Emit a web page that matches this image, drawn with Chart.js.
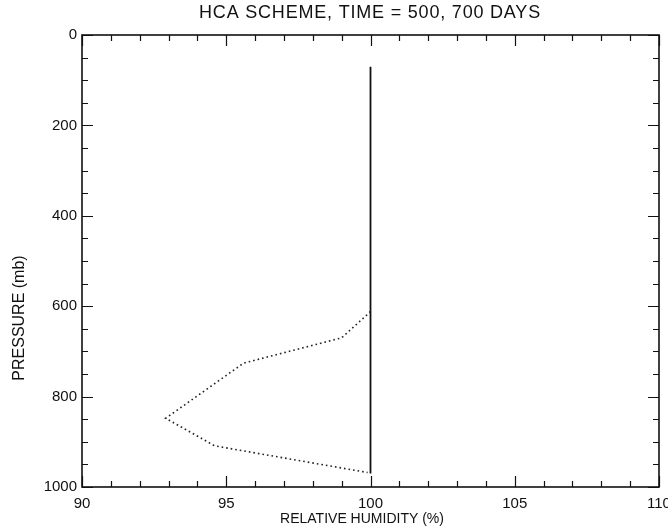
<!DOCTYPE html>
<html>
<head>
<meta charset="utf-8">
<script src="https://cdn.jsdelivr.net/npm/chart.js@4"></script>
<style>
  html, body { margin: 0; padding: 0; background: #fff; }
  #wrap { width: 668px; height: 528px; }
</style>
</head>
<body>
<div id="wrap"><canvas id="c" width="668" height="528"></canvas></div>
<script>
// ---- data ----
const titleText = "HCA SCHEME, TIME = 500, 700 DAYS";
const xTitle = "RELATIVE HUMIDITY (%)";
const yTitle = "PRESSURE (mb)";
const xTickLabels = [90, 95, 100, 105, 110];
const yTickLabels = [0, 200, 400, 600, 800, 1000];
const solidRH = [100, 100];
const solidP = [70, 970];
const dottedRH = [100, 99.0, 95.6, 92.9, 94.6, 99.9];
const dottedP = [612, 670, 726, 848, 909, 968];

const FONT = "'Liberation Sans', Arial, sans-serif";

function toPts(xs, ys) { return xs.map((x, i) => ({ x: x, y: ys[i] })); }

const frameTicks = {
  id: 'frameTicks',
  afterDatasetsDraw(chart) {
    const { ctx, chartArea: a, scales: { x, y } } = chart;
    ctx.save();
    ctx.strokeStyle = '#111';
    ctx.lineWidth = 1.6;
    ctx.strokeRect(a.left, a.top, a.right - a.left, a.bottom - a.top);
    ctx.lineWidth = 1.2;
    ctx.beginPath();
    for (let v = x.min; v <= x.max + 1e-9; v += 1) {
      const px = Math.round(x.getPixelForValue(v)) + 0.5;
      const major = xTickLabels.includes(v);
      const len = major ? 11 : 6;
      ctx.moveTo(px, a.bottom); ctx.lineTo(px, a.bottom - len);
      ctx.moveTo(px, a.top); ctx.lineTo(px, a.top + len);
    }
    for (let v = y.min; v <= y.max + 1e-9; v += 50) {
      const py = Math.round(y.getPixelForValue(v)) + 0.5;
      const major = yTickLabels.includes(v);
      const len = major ? 11 : 6;
      ctx.moveTo(a.left, py); ctx.lineTo(a.left + len, py);
      ctx.moveTo(a.right, py); ctx.lineTo(a.right - len, py);
    }
    ctx.stroke();
    ctx.restore();
  },
  afterDraw(chart) {
    const { ctx } = chart;
    ctx.save();
    ctx.fillStyle = '#111';
    ctx.textAlign = 'center';
    ctx.textBaseline = 'middle';
    ctx.font = "18px " + FONT;
    if ('letterSpacing' in ctx) ctx.letterSpacing = '0.8px';
    ctx.fillText(titleText, 370, 13);
    if ('letterSpacing' in ctx) ctx.letterSpacing = '0px';
    ctx.font = "14px " + FONT;
    ctx.fillText(xTitle, 362, 519);
    ctx.translate(20, 318);
    ctx.rotate(-Math.PI / 2);
    ctx.font = "16px " + FONT;
    ctx.fillText(yTitle, 0, 0);
    ctx.restore();
  }
};

new Chart(document.getElementById('c'), {
  type: 'scatter',
  data: {
    datasets: [
      {
        label: 'Solid',
        data: toPts(solidRH, solidP),
        showLine: true,
        borderColor: '#111',
        borderWidth: 1.8,
        pointRadius: 0,
        tension: 0
      },
      {
        label: 'Dotted',
        data: toPts(dottedRH, dottedP),
        showLine: true,
        borderColor: '#222',
        borderWidth: 1.6,
        borderDash: [1.6, 3],
        pointRadius: 0,
        tension: 0
      }
    ]
  },
  options: {
    responsive: false,
    animation: false,
    devicePixelRatio: 1,
    layout: { padding: { top: 35, right: 9, left: 0, bottom: 0 } },
    plugins: { legend: { display: false }, tooltip: { enabled: false }, title: { display: false } },
    scales: {
      x: {
        type: 'linear',
        min: 90, max: 110,
        grid: { display: false, drawTicks: false },
        border: { display: false },
        ticks: {
          stepSize: 1,
          autoSkip: false,
          maxRotation: 0,
          padding: 8,
          color: '#111',
          font: { family: FONT, size: 15 },
          callback: (v) => xTickLabels.includes(v) ? String(v) : ''
        },
        afterFit: (s) => { s.height = 41; s.paddingLeft = 0; s.paddingRight = 0; }
      },
      y: {
        type: 'linear',
        reverse: true,
        min: 0, max: 1000,
        grid: { display: false, drawTicks: false },
        border: { display: false },
        ticks: {
          stepSize: 50,
          autoSkip: false,
          padding: 5,
          color: '#111',
          font: { family: FONT, size: 15 },
          callback: (v) => yTickLabels.includes(v) ? String(v) : ''
        },
        afterFit: (s) => { s.width = 82; s.paddingTop = 0; s.paddingBottom = 0; }
      }
    }
  },
  plugins: [frameTicks]
});
</script>
</body>
</html>
